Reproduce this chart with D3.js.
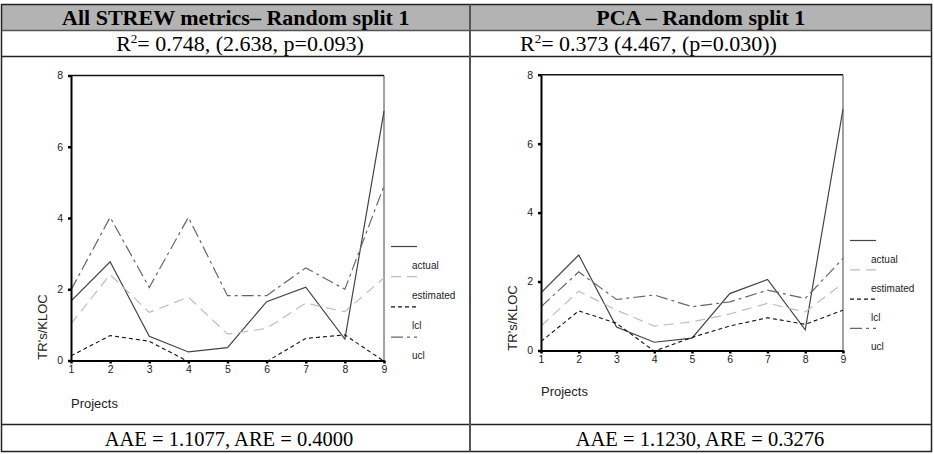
<!DOCTYPE html>
<html lang="en">
<head>
<meta charset="UTF-8">
<title>STREW vs PCA - Random split 1</title>
<script src="https://d3js.org/d3.v7.min.js"></script>
<style>
    body { margin: 0; background: #fff; }
    .cell-text { font-family: "Liberation Serif", "Times New Roman", serif; font-size: 22px; fill: #000; }
    .head-text { font-weight: bold; }
    .foot-text { font-size: 20.5px; }
    .chart-text { font-family: "Liberation Sans", Arial, sans-serif; fill: #222; }
</style>
</head>
<body>
<script>
// data
const projects = [1, 2, 3, 4, 5, 6, 7, 8, 9];
const actual = [1.67, 2.77, 0.68, 0.24, 0.36, 1.65, 2.06, 0.6, 7.0];

const strewEstimated = [1.03, 2.41, 1.35, 1.78, 0.74, 0.9, 1.61, 1.37, 2.32];
const strewLcl = [0.13, 0.7, 0.54, -0.03, -0.4, -0.03, 0.62, 0.72, -0.02];
const strewUcl = [1.98, 4.02, 2.05, 4.02, 1.82, 1.82, 2.6, 2.0, 4.9];

const pcaEstimated = [0.71, 1.72, 1.17, 0.71, 0.83, 1.06, 1.37, 1.12, 1.95];
const pcaLcl = [0.26, 1.15, 0.79, -0.02, 0.38, 0.71, 0.95, 0.76, 1.17];
const pcaUcl = [1.27, 2.28, 1.48, 1.61, 1.27, 1.41, 1.75, 1.51, 2.67];

const yTicks = [0, 2, 4, 6, 8];
const seriesNames = ["actual", "estimated", "lcl", "ucl"];
const titles = ["All STREW metrics\u2013 Random split 1", "PCA \u2013 Random split 1"];
const footers = ["AAE = 1.1077, ARE = 0.4000", "AAE = 1.1230, ARE = 0.3276"];

const styles = {
    actual:    { stroke: "#444", dash: null, w: 1.2 },
    estimated: { stroke: "#bdbdbd", dash: "10,6", w: 1.2 },
    lcl:       { stroke: "#111", dash: "4,3", w: 1.1 },
    ucl:       { stroke: "#666", dash: "12,4,3,4", w: 1.2 }
};

const svg = d3.select("body").append("svg")
    .attr("width", 934).attr("height", 454);

// ---- table ----
const L = 1.5, R = 931.5, M = 470, T = 4.5, B = 451.5;
svg.append("rect").attr("x", L).attr("y", T).attr("width", R - L).attr("height", 26)
    .attr("fill", "#b3b3b3");
svg.append("rect").attr("x", L).attr("y", T).attr("width", R - L).attr("height", B - T)
    .attr("fill", "none").attr("stroke", "#222").attr("stroke-width", 1.5);
[30.5, 56.5, 424.5].forEach(y => {
    svg.append("line").attr("x1", L).attr("x2", R).attr("y1", y).attr("y2", y)
        .attr("stroke", y === 30.5 ? "#555" : "#222").attr("stroke-width", 1.3);
});
svg.append("line").attr("x1", M).attr("x2", M).attr("y1", T).attr("y2", B)
    .attr("stroke", "#555").attr("stroke-width", 2);

svg.append("text").attr("class", "cell-text head-text")
    .attr("x", (L + M) / 2).attr("y", 25).attr("text-anchor", "middle").text(titles[0]);
svg.append("text").attr("class", "cell-text head-text")
    .attr("x", (M + R) / 2).attr("y", 25).attr("text-anchor", "middle").text(titles[1]);

function r2Text(x, anchor, value, rest) {
    const t = svg.append("text").attr("class", "cell-text")
        .attr("x", x).attr("y", 51).attr("text-anchor", anchor);
    t.append("tspan").text("R");
    t.append("tspan").attr("dy", -8).attr("font-size", 13).text("2");
    t.append("tspan").attr("dy", 8).text("= " + value + rest);
}
r2Text(240, "middle", "0.748", ", (2.638, p=0.093)");
r2Text(520, "start", "0.373", " (4.467, (p=0.030))");

svg.append("text").attr("class", "cell-text foot-text")
    .attr("x", 229).attr("y", 446).attr("text-anchor", "middle").text(footers[0]);
svg.append("text").attr("class", "cell-text foot-text")
    .attr("x", 700).attr("y", 446).attr("text-anchor", "middle").text(footers[1]);

// ---- charts ----
function drawPanel(cfg, id) {
    const x = d3.scaleLinear().domain([1, 9]).range([cfg.x0, cfg.x1]);
    const y = d3.scaleLinear().domain([0, 8]).range([cfg.y0, cfg.y1]);
    const g = svg.append("g");

    g.append("clipPath").attr("id", "clip" + id).append("rect")
        .attr("x", cfg.x0).attr("y", cfg.y1).attr("width", cfg.x1 - cfg.x0 + 2)
        .attr("height", cfg.y0 - cfg.y1);

    // frame top + right
    g.append("line").attr("x1", cfg.x0).attr("x2", cfg.x1).attr("y1", cfg.y1).attr("y2", cfg.y1)
        .attr("stroke", "#111").attr("stroke-width", 1.5);
    g.append("line").attr("x1", cfg.x1).attr("x2", cfg.x1).attr("y1", cfg.y1).attr("y2", cfg.y0)
        .attr("stroke", "#444").attr("stroke-width", 1);

    const line = d3.line().x((d, i) => x(projects[i])).y(d => y(d));
    const series = { actual: actual, estimated: cfg.est, lcl: cfg.lcl, ucl: cfg.ucl };
    seriesNames.forEach(name => {
        const s = styles[name];
        g.append("path").datum(series[name])
            .attr("d", line)
            .attr("fill", "none")
            .attr("stroke", s.stroke)
            .attr("stroke-width", s.w)
            .attr("stroke-dasharray", s.dash)
            .attr("clip-path", "url(#clip" + id + ")");
    });

    // axes
    const yAxis = g.append("g").attr("transform", `translate(${cfg.x0},0)`)
        .call(d3.axisLeft(y).tickValues(yTicks).tickSizeInner(3).tickSizeOuter(0).tickPadding(5));
    const xAxis = g.append("g").attr("transform", `translate(0,${cfg.y0})`)
        .call(d3.axisBottom(x).tickValues(projects).tickSizeInner(3).tickSizeOuter(0).tickPadding(2));
    [yAxis, xAxis].forEach(a => {
        a.select(".domain").attr("stroke", "#000").attr("stroke-width", 2);
        a.selectAll(".tick line").attr("stroke", "#000").attr("stroke-width", 2.5);
        a.selectAll(".tick text").attr("class", "chart-text").attr("font-size", 10.5).attr("fill", "#222");
    });

    g.append("text").attr("class", "chart-text").attr("font-size", 13)
        .attr("transform", `translate(${cfg.yl},${cfg.ylY}) rotate(-90)`)
        .attr("text-anchor", "middle").text("TR's/KLOC");
    g.append("text").attr("class", "chart-text").attr("font-size", 13)
        .attr("x", cfg.x0).attr("y", cfg.xlY).text("Projects");

    // legend
    seriesNames.forEach((name, i) => {
        const s = styles[name];
        const ly = cfg.legY + i * cfg.legStep;
        g.append("line").attr("x1", cfg.legX).attr("x2", cfg.legX + 26)
            .attr("y1", ly).attr("y2", ly)
            .attr("stroke", s.stroke).attr("stroke-width", s.w)
            .attr("stroke-dasharray", s.dash);
        g.append("text").attr("class", "chart-text").attr("font-size", 10)
            .attr("x", cfg.legX + 21).attr("y", ly + 22).text(name);
    });
}

drawPanel({ x0: 71, x1: 384, y0: 360.5, y1: 75.5, est: strewEstimated, lcl: strewLcl, ucl: strewUcl,
    yl: 47, ylY: 327, xlY: 408, legX: 391, legY: 246.5, legStep: 30.2 }, 0);
drawPanel({ x0: 541, x1: 843, y0: 350.5, y1: 74.7, est: pcaEstimated, lcl: pcaLcl, ucl: pcaUcl,
    yl: 517, ylY: 318, xlY: 396, legX: 850, legY: 240.5, legStep: 29.3 }, 1);
</script>
</body>
</html>
